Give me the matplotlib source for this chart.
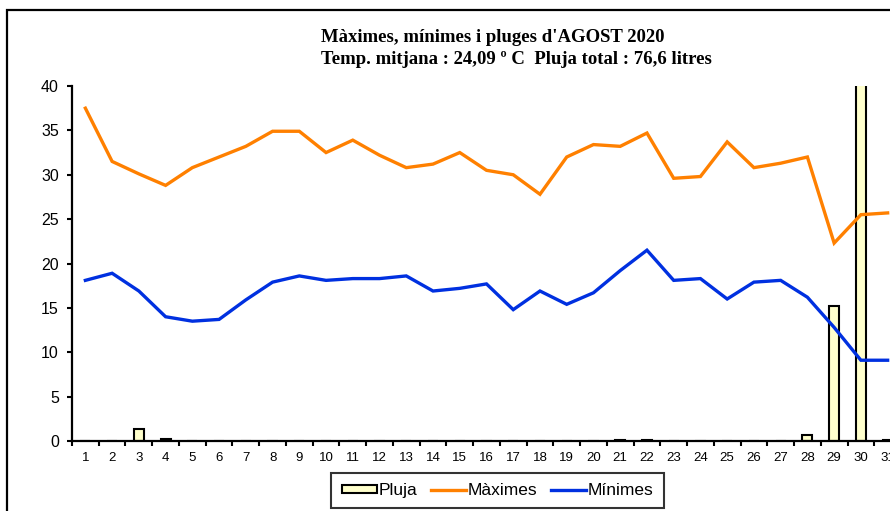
import matplotlib
matplotlib.use("Agg")
import matplotlib.pyplot as plt
from matplotlib.patches import Rectangle
from matplotlib.lines import Line2D
from matplotlib.patches import Patch

days = list(range(1, 32))
day_labels = [str(d) for d in days]
maximes = [37.5, 31.5, 30.1, 28.8, 30.8, 32.0, 33.2, 34.9, 34.9, 32.5, 33.9, 32.2, 30.8, 31.2, 32.5,
           30.5, 30.0, 27.8, 32.0, 33.4, 33.2, 34.7, 29.6, 29.8, 33.7, 30.8, 31.3, 32.0, 22.3, 25.5, 25.7]
minimes = [18.1, 18.9, 16.9, 14.0, 13.5, 13.7, 15.9, 17.9, 18.6, 18.1, 18.3, 18.3, 18.6, 16.9, 17.2,
           17.7, 14.8, 16.9, 15.4, 16.7, 19.2, 21.5, 18.1, 18.3, 16.0, 17.9, 18.1, 16.2, 12.8, 9.1, 9.1]
pluja = [0, 0, 1.4, 0.2, 0, 0, 0, 0, 0, 0, 0, 0, 0, 0, 0,
         0, 0, 0, 0, 0, 0.1, 0.1, 0, 0, 0, 0, 0, 0.7, 15.2, 58.8, 0.1]
yticks = [0, 5, 10, 15, 20, 25, 30, 35, 40]
title_text = "Màximes, mínimes i pluges d'AGOST 2020\nTemp. mitjana : 24,09 º C  Pluja total : 76,6 litres"

W, H = 890, 511
fig = plt.figure(figsize=(W / 100, H / 100), dpi=100)
fig.patch.set_facecolor("white")

left, right, top, bottom = 72, 901, 86, 441
ax = fig.add_axes([left / W, 1 - bottom / H, (right - left) / W, (bottom - top) / H])

orange = "#FF8000"
blue = "#0030E0"

ax.bar(days, pluja, width=0.38, color="#FFFFCC", edgecolor="black", linewidth=1.5, zorder=2)
ax.plot(days, maximes, color=orange, linewidth=2.4, zorder=3, solid_joinstyle="miter")
ax.plot(days, minimes, color=blue, linewidth=2.4, zorder=3, solid_joinstyle="miter")

ax.set_xlim(0.5, 31.5)
ax.set_ylim(0, 40)
ax.set_yticks(yticks)
ax.set_yticklabels([str(v) for v in yticks], fontfamily="Liberation Sans", fontsize=11.5)
ax.set_xticks(days)
ax.set_xticklabels(day_labels, fontfamily="Liberation Sans", fontsize=9.5)
ax.set_xticks([d + 0.5 for d in [0] + days], minor=True)
ax.tick_params(axis="x", which="major", length=0, pad=8)
ax.tick_params(axis="x", which="minor", length=3.5, width=1.5, direction="out")
ax.tick_params(axis="y", length=3.5, width=1.5, direction="out", pad=6)

for s in ["top", "right"]:
    ax.spines[s].set_visible(False)
for s in ["left", "bottom"]:
    ax.spines[s].set_linewidth(1.6)

fig.text(321 / W, 1 - 48.5 / H, title_text, ha="left", va="center", multialignment="left",
         fontfamily="Liberation Serif", fontweight="bold", fontsize=13.5, linespacing=1.33)

# figure border
fig.patches.append(Rectangle((7 / W, -0.1), 1.2, 1 - 10 / H + 0.1, transform=fig.transFigure,
                             fill=False, edgecolor="black", linewidth=1.6))

handles = [Patch(facecolor="#FFFFCC", edgecolor="black", linewidth=1.5),
           Line2D([], [], color=orange, linewidth=2.4),
           Line2D([], [], color=blue, linewidth=2.4)]
leg = fig.legend(handles, ["Pluja", "Màximes", "Mínimes"], loc="center",
                 bbox_to_anchor=(497.5 / W, 1 - 490.5 / H), ncol=3, frameon=True,
                 fancybox=False, shadow=False, prop={"family": "Liberation Sans", "size": 12.5},
                 handlelength=2.0, handleheight=0.35, handletextpad=0.1, columnspacing=0.8,
                 borderpad=0.6)
leg.get_frame().set_edgecolor("black")
leg.get_frame().set_linewidth(1.5)

fig.savefig("out.png", dpi=100)
